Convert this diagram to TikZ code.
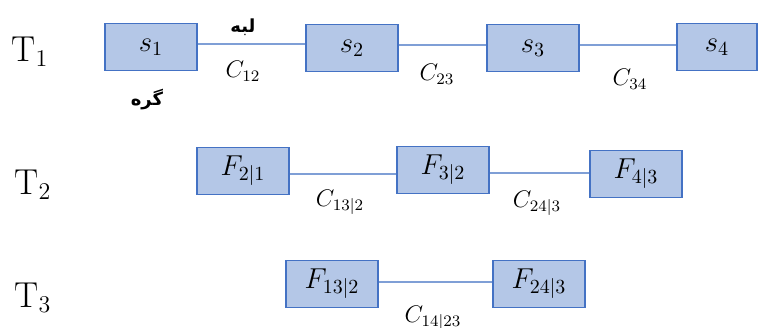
\documentclass[tikz,border=0pt]{standalone}
\usepackage{amsmath}
\usepackage{fontspec}
\newfontfamily\persianfont[Script=Arabic]{DejaVu Sans}
\TeXXeTstate=1
\usepackage{tikz}
\usetikzlibrary{positioning,calc}
\definecolor{boxfill}{HTML}{B4C7E7}
\definecolor{boxline}{HTML}{4472C4}
\definecolor{edgeline}{HTML}{7F9FD6}
\tikzset{
  vbox/.style    = {draw=boxline,fill=boxfill,line width=0.8pt,
                    minimum width=46pt,minimum height=23.5pt,inner sep=1pt,
                    font=\Large},
  edge/.style    = {draw=edgeline,line width=1pt},
  elbl/.style    = {font=\large,inner sep=1pt},
  tree/.style    = {font=\fontsize{18}{20}\selectfont,inner sep=1pt},
  plbl/.style    = {font=\persianfont\bfseries\small,inner sep=1pt},
}
\newcommand{\fa}[1]{{\beginR #1\endR}}

\begin{document}
\begin{tikzpicture}[x=0.5pt,y=-0.5pt]
  \useasboundingbox (0,0) rectangle (759,327);

  % tree labels
  \node[tree] (t1) at (30,52)  {$\mathrm{T}_1$};
  \node[tree] (t2) at (33,185) {$\mathrm{T}_2$};
  \node[tree] (t3) at (33,298) {$\mathrm{T}_3$};

  % first tree
  \node[vbox] (s1) at (151,47) {$s_1$};
  \node[vbox] (s2) at (352,48) {$s_2$};
  \node[vbox] (s3) at (533,48) {$s_3$};
  \node[vbox,minimum width=40pt] (s4) at (717,47) {$s_4$};
  \coordinate (e12) at ($(s1.east)+(0,-3)$);
  \coordinate (e23) at ($(s2.east)+(0,-3)$);
  \coordinate (e34) at ($(s3.east)+(0,-3)$);
  \draw[edge] (e12) -- (e12 -| s2.west);
  \draw[edge] (e23) -- (e23 -| s3.west);
  \draw[edge] (e34) -- (e34 -| s4.west);
  \node[elbl] (c12) at (243,71) {$C_{12}$};
  \node[elbl] (c23) at (437,74) {$C_{23}$};
  \node[elbl] (c34) at (630,79) {$C_{34}$};
  \node[plbl] (edgetxt) at (243,27) {\fa{لبه}};
  \node[plbl] (nodetxt) at (147,100) {\fa{گره}};

  % second tree
  \node[vbox] (f21) at (243,171) {$F_{2|1}$};
  \node[vbox] (f32) at (443,170) {$F_{3|2}$};
  \node[vbox] (f43) at (636,174) {$F_{4|3}$};
  \coordinate (e213) at ($(f21.east)+(0,3)$);
  \coordinate (e324) at ($(f32.east)+(0,3)$);
  \draw[edge] (e213) -- (e213 -| f32.west);
  \draw[edge] (e324) -- (e324 -| f43.west);
  \node[elbl] (c132) at (340,202) {$C_{13|2}$};
  \node[elbl] (c243) at (537,203) {$C_{24|3}$};

  % third tree
  \node[vbox] (f132) at (332,284) {$F_{13|2}$};
  \node[vbox] (f243) at (539,284) {$F_{24|3}$};
  \coordinate (e1423) at ($(f132.east)+(0,-2)$);
  \draw[edge] (e1423) -- (e1423 -| f243.west);
  \node[elbl] (c1423) at (433,318) {$C_{14|23}$};
\end{tikzpicture}
\end{document}
